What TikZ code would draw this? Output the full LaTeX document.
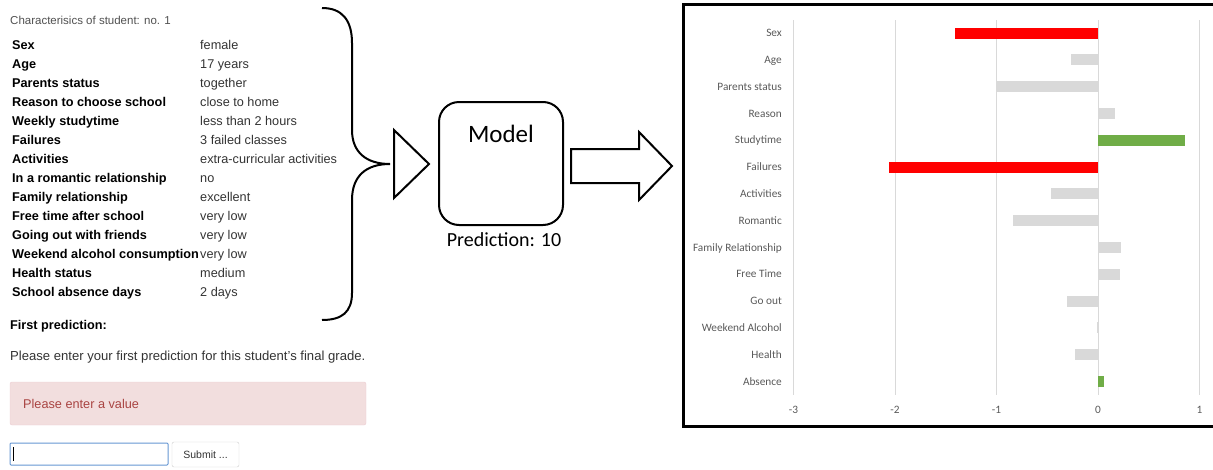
\documentclass[tikz,border=0pt]{standalone}
\usepackage{fontspec}
\setmainfont{Liberation Sans}
\newfontfamily\calfont{Carlito}
\definecolor{txt}{RGB}{51,51,51}
\definecolor{ttl}{RGB}{80,80,80}
\definecolor{grid}{RGB}{217,217,217}
\definecolor{barred}{RGB}{255,0,0}
\definecolor{bargreen}{RGB}{112,173,71}
\definecolor{bargray}{RGB}{217,217,217}
\definecolor{alertbg}{RGB}{242,222,222}
\definecolor{alertbd}{RGB}{235,204,209}
\definecolor{alerttx}{RGB}{169,68,66}
\definecolor{inputbd}{RGB}{102,150,210}
\definecolor{btnbd}{RGB}{204,204,204}
\definecolor{axlab}{RGB}{89,89,89}
\begin{document}
\begin{tikzpicture}[x=1pt,y=-1pt,
  lbl/.style={anchor=base west,inner sep=0pt,font=\fontsize{12.7}{15}\selectfont\bfseries,text=black},
  val/.style={anchor=base west,inner sep=0pt,font=\fontsize{12.7}{15}\selectfont,text=txt},
  clbl/.style={anchor=base east,inner sep=0pt,font=\calfont\fontsize{11.3}{13}\selectfont,text=axlab},
  tick/.style={anchor=base,inner sep=0pt,font=\calfont\fontsize{11.3}{13}\selectfont,text=axlab},
  shapeline/.style={draw=black,line width=2pt},
]
\useasboundingbox (0,0) rectangle (1213,469);

% ---------- left form ----------
\node[anchor=base west,inner sep=0pt,font=\fontsize{11.5}{14}\selectfont,text=ttl] (title) at (10,24.2) {Characterisics of student: no. 1};
\foreach \i/\a/\b in {0/Sex/female,1/Age/17 years,2/Parents status/together,
  3/Reason to choose school/close to home,4/Weekly studytime/less than 2 hours,
  5/Failures/3 failed classes,6/Activities/extra-curricular activities,
  7/In a romantic relationship/no,8/Family relationship/excellent,
  9/Free time after school/very low,10/Going out with friends/very low,
  11/Weekend alcohol consumption/very low,12/Health status/medium,
  13/School absence days/2 days}{
  \node[lbl] (k\i) at (12,49.5+19*\i) {\a};
  \node[val] (v\i) at (200,49.5+19*\i) {\b};
}
\node[lbl] (first) at (10,329.5) {First prediction:};
\node[val,font=\fontsize{13.1}{15}\selectfont] (please) at (10,360.7) {Please enter your first prediction for this student's final grade.};
\draw[fill=alertbg,draw=alertbd,rounded corners=2pt] (10,382) rectangle (366,425);
\node[val,text=alerttx] (alert) at (23,408.5) {Please enter a value};
\draw[draw=inputbd,line width=1pt,rounded corners=1pt] (10,443) rectangle (168,465);
\draw[black,line width=0.8pt] (13.5,447) -- (13.5,461);
\node[draw=btnbd,rounded corners=2pt,minimum width=67pt,minimum height=25pt,inner sep=0pt,
  font=\fontsize{10.5}{12}\selectfont,text=txt] (submit) at (205.5,454.5) {Submit ...};

% ---------- brace ----------
\draw[line width=2pt] (322,8) .. controls (342,8) and (352,20) .. (352,43) -- (352,130)
  .. controls (352,152) and (366,164) .. (390,164)
  .. controls (366,164) and (352,176) .. (352,200) -- (352,293)
  .. controls (352,312) and (342,320) .. (322,320);
\coordinate (bracetip) at (390,164);

% ---------- triangle ----------
\draw[shapeline,line join=miter] (394,130) -- (429,164) -- (394,198) -- cycle;

% ---------- model ----------
\node[shapeline,rounded corners=20pt,minimum width=124pt,minimum height=123pt] (model) at (501,163.5) {};
\node[inner sep=0pt,font=\calfont\fontsize{25}{28}\selectfont] (modeltxt) at (501,134) {Model};
\node[inner sep=0pt,font=\calfont\fontsize{20}{22}\selectfont] (pred) at (504,240) {Prediction: 10};

% ---------- block arrow ----------
\draw[shapeline,line join=miter] (571,149) -- (639,149) -- (639,132) -- (672,166) -- (639,200) -- (639,183) -- (571,183) -- cycle;

% ---------- chart ----------
\foreach \v in {-3,-2,-1,0,1}{
  \draw[grid,line width=1pt] ({1098+101.5*\v},20) -- ({1098+101.5*\v},395);
  \node[tick] at ({1098+101.5*\v},413) {\ifnum\v<0 -\the\numexpr-\v\relax\else\v\fi};
}
\foreach \i/\n/\v/\c in {0/Sex/-1.41/barred,1/Age/-0.27/bargray,2/Parents status/-1.0/bargray,
  3/Reason/0.17/bargray,4/Studytime/0.86/bargreen,5/Failures/-2.06/barred,
  6/Activities/-0.46/bargray,7/Romantic/-0.84/bargray,8/Family Relationship/0.23/bargray,
  9/Free Time/0.22/bargray,10/Go out/-0.31/bargray,11/Weekend Alcohol/-0.01/bargray,
  12/Health/-0.23/bargray,13/Absence/0.06/bargreen}{
  \node[clbl] (c\i) at (782,{33+26.8*\i+3.7}) {\n};
  \fill[\c] (1098,{33+26.8*\i-5.5}) rectangle ({1098+101.5*\v},{33+26.8*\i+5.5});
}
\draw[line width=3pt,line join=miter] (1215,4) -- (683,4) -- (683,426) -- (1215,426);
\end{tikzpicture}
\end{document}
